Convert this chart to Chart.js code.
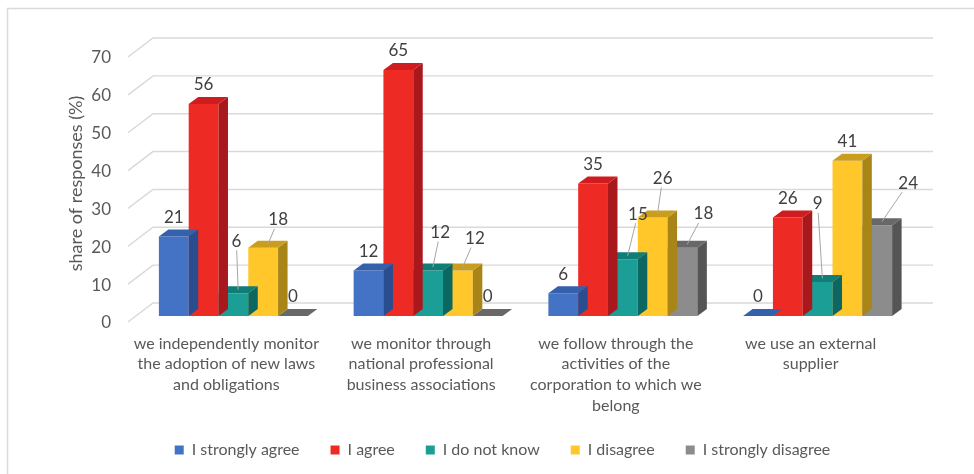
<!DOCTYPE html>
<html>
<head>
<meta charset="utf-8">
<title>How companies follow new legal obligations</title>
<script src="https://cdn.jsdelivr.net/npm/chart.js@4.4.1/dist/chart.umd.min.js"></script>
<style>
  html, body { margin: 0; padding: 0; background: #ffffff; }
  #wrap { width: 974px; height: 474px; position: relative; }
</style>
</head>
<body>
<div id="wrap"><canvas id="chart" width="974" height="474"></canvas></div>
<script>
// ---- data ----
const categories = [
  ['we independently monitor', 'the adoption of new laws', 'and obligations'],
  ['we monitor through', 'national professional', 'business associations'],
  ['we follow through the', 'activities of the', 'corporation to which we', 'belong'],
  ['we use an external', 'supplier']
];
const seriesNames = ['I strongly agree', 'I agree', 'I do not know', 'I disagree', 'I strongly disagree'];
const stronglyAgree    = [21, 12, 6, 0];
const agree            = [56, 65, 35, 26];
const doNotKnow        = [6, 12, 15, 9];
const disagree         = [18, 12, 26, 41];
const stronglyDisagree = [0, 0, 18, 24];
const yMin = 0, yMax = 70, yStep = 10;
const yTitle = 'share of responses (%)';

// ---- styling ----
const FONT = 'Lato, "Open Sans", "Liberation Sans", sans-serif';
const TEXT = '#595959';
const palette = [
  { front: '#4472c4', top: '#3560ab', side: '#2a4d8f' },
  { front: '#ee2a24', top: '#cf1d1f', side: '#a8181c' },
  { front: '#1a9e96', top: '#107d77', side: '#0c6762' },
  { front: '#ffc72a', top: '#c99d1e', side: '#a98517' },
  { front: '#8c8c8c', top: '#686868', side: '#555555' }
];
const allSeries = [stronglyAgree, agree, doNotKnow, disagree, stronglyDisagree];

// depth of the extruded bars and of the back wall
const DEPTH = { dx: 9.5, dy: -7 };
const WALL = { frontX: -8, backX: 17, frontY: 6, backY: -13, extraRight: 18 };

// manual nudges (px) of value labels that sit away from their bar, joined by a leader line
const labelShift = [
  [[0, 0], [0, 0], [0, 0], [0, 0]],
  [[0, 0], [0, 0], [0, 0], [0, 0]],
  [[3, -33], [12, -19], [15, -26], [0, -59]],
  [[15, -9], [17, -13], [10, -20], [0, 0]],
  [[0, 0], [0, 0], [21, -15], [31, -23]]
];

const bars3d = {
  id: 'bars3d',
  beforeDraw(chart) {
    const ctx = chart.ctx;
    ctx.save();
    ctx.fillStyle = '#ffffff';
    ctx.fillRect(0, 0, chart.width, chart.height);
    // frame of the chart box
    ctx.strokeStyle = '#dadada';
    ctx.lineWidth = 1.5;
    ctx.beginPath();
    ctx.moveTo(7.5, chart.height);
    ctx.lineTo(7.5, 8.5);
    ctx.lineTo(chart.width, 8.5);
    ctx.stroke();
    ctx.restore();
  },
  afterLayout(chart) {
    // centre the legend under the plot as a whole
    chart.legend.left += 45;
    chart.legend.right += 45;
    // let the four-line category label run into the legend's top padding
    chart.scales.x.bottom += 14;
  },
  beforeDatasetsDraw(chart) {
    const { ctx, chartArea } = chart;
    const ys = chart.scales.y;
    ctx.save();
    ctx.strokeStyle = '#d9d9d9';
    ctx.lineWidth = 1.4;
    for (let v = yMin; v <= yMax; v += yStep) {
      const p = ys.getPixelForValue(v);
      ctx.beginPath();
      ctx.moveTo(chartArea.left + WALL.frontX, p + WALL.frontY);
      ctx.lineTo(chartArea.left + WALL.backX, p + WALL.backY);
      ctx.lineTo(chartArea.right + WALL.extraRight, p + WALL.backY);
      ctx.stroke();
    }
    ctx.restore();
  },
  afterDatasetDraw(chart, args) {
    const ctx = chart.ctx;
    const col = palette[args.index];
    const { dx, dy } = DEPTH;
    ctx.save();
    args.meta.data.forEach(bar => {
      const { x, y, base, width } = bar.getProps(['x', 'y', 'base', 'width'], true);
      const l = x - width / 2, r = x + width / 2;
      // right side face
      if (base - y > 0.5) {
        ctx.fillStyle = col.side;
        ctx.beginPath();
        ctx.moveTo(r, y);
        ctx.lineTo(r + dx, y + dy);
        ctx.lineTo(r + dx, base + dy);
        ctx.lineTo(r, base);
        ctx.closePath();
        ctx.fill();
      }
      // top face
      ctx.fillStyle = col.top;
      ctx.beginPath();
      ctx.moveTo(l, y);
      ctx.lineTo(r, y);
      ctx.lineTo(r + dx, y + dy);
      ctx.lineTo(l + dx, y + dy);
      ctx.closePath();
      ctx.fill();
    });
    ctx.restore();
  },
  afterDatasetsDraw(chart) {
    const ctx = chart.ctx;
    const { dx, dy } = DEPTH;
    ctx.save();
    ctx.font = '17px ' + FONT;
    ctx.textAlign = 'center';
    ctx.textBaseline = 'middle';
    chart.data.datasets.forEach((ds, di) => {
      const meta = chart.getDatasetMeta(di);
      meta.data.forEach((bar, ci) => {
        const { x, y } = bar.getProps(['x', 'y'], true);
        const [sx, sy] = labelShift[di][ci];
        const lx = x + sx, ly = y - 19 + sy;
        const text = String(ds.data[ci]);
        if (sx !== 0 || sy !== 0) {
          const tx = x + dx / 2, ty = y + dy / 2;
          const vx = tx - lx, vy = ty - ly;
          const hw = ctx.measureText(text).width / 2 + 3, hh = 9;
          const t = Math.min(vx !== 0 ? hw / Math.abs(vx) : Infinity, vy !== 0 ? hh / Math.abs(vy) : Infinity);
          ctx.strokeStyle = '#a6a6a6';
          ctx.lineWidth = 1;
          ctx.beginPath();
          ctx.moveTo(lx + vx * t, ly + vy * t);
          ctx.lineTo(tx, ty);
          ctx.stroke();
        }
        ctx.fillStyle = '#404040';
        ctx.fillText(text, lx, ly);
      });
    });
    ctx.restore();
  }
};

function draw() {
  new Chart(document.getElementById('chart'), {
    type: 'bar',
    data: {
      labels: categories,
      datasets: allSeries.map((values, i) => ({
        label: seriesNames[i],
        data: values,
        backgroundColor: palette[i].front,
        borderWidth: 0,
        barPercentage: 1,
        categoryPercentage: 0.765
      }))
    },
    options: {
      responsive: false,
      animation: false,
      events: [],
      layout: { padding: { left: 0, right: 59, top: 51, bottom: 6 } },
      plugins: {
        tooltip: { enabled: false },
        legend: {
          position: 'bottom',
          labels: {
            boxWidth: 9,
            boxHeight: 9,
            padding: 31,
            color: TEXT,
            font: { family: FONT, size: 16 }
          }
        }
      },
      scales: {
        x: {
          grid: { display: false, drawTicks: false },
          border: { display: false },
          ticks: {
            color: TEXT,
            font: { family: FONT, size: 16, lineHeight: 1.3 },
            padding: 17,
            labelOffset: -7,
            maxRotation: 0,
            autoSkip: false
          },
          afterFit(scale) { scale.height = 95; }
        },
        y: {
          min: yMin,
          max: yMax,
          grid: { display: false, drawTicks: false },
          border: { display: false },
          ticks: {
            stepSize: yStep,
            color: TEXT,
            font: { family: FONT, size: 17 },
            padding: 25,
            labelOffset: 7
          },
          title: {
            display: true,
            text: yTitle,
            color: TEXT,
            font: { family: FONT, size: 18 },
            padding: { top: 65, bottom: 0 }
          },
          afterFit(scale) { scale.width = 136; }
        }
      }
    },
    plugins: [bars3d]
  });
}

if (document.fonts && document.fonts.load) {
  document.fonts.load('16px Lato').then(draw, draw);
} else {
  draw();
}
</script>
</body>
</html>
